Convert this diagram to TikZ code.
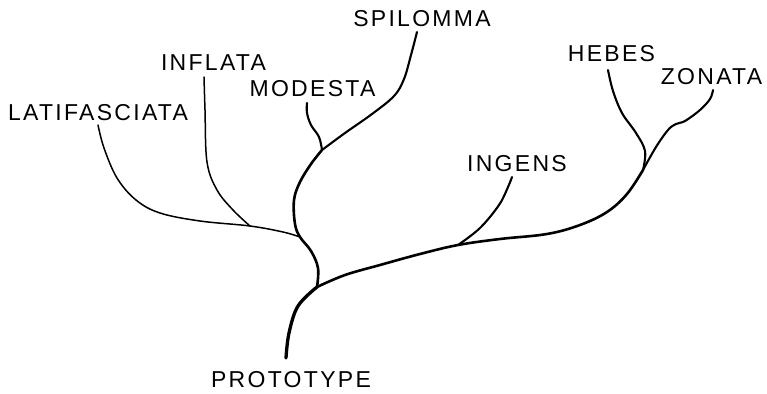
\documentclass[tikz,border=0pt]{standalone}
\usepackage{fontspec}
\setmainfont{Liberation Sans}[LetterSpace=10]
\begin{document}
\begin{tikzpicture}[x=1pt,y=-1pt,
  lbl/.style={inner sep=0pt,font=\fontsize{23}{23}\selectfont},
  trunk/.style={line width=3.3pt,line cap=round,line join=round},
  main/.style={line width=2.6pt,line cap=round,line join=round},
  branch/.style={line width=2.1pt,line cap=round,line join=round},
  thin/.style={line width=1.5pt,line cap=round,line join=round}]
\useasboundingbox (0,0) rectangle (767,393);
% labels
\node[lbl] (proto) at (291,380) {PROTOTYPE};
\node[lbl] (lati)  at (98,112.5) {LATIFASCIATA};
\node[lbl] (infl)  at (213.5,62.5) {INFLATA};
\node[lbl] (mode)  at (312.5,88.5) {MODESTA};
\node[lbl] (spil)  at (422,18.5) {SPILOMMA};
\node[lbl] (inge)  at (517,163.5) {INGENS};
\node[lbl] (hebe)  at (611.5,53.5) {HEBES};
\node[lbl] (zona)  at (711.5,76.5) {ZONATA};
% ends and junctions
\coordinate (rootend) at (286,358);
\coordinate (J1) at (317,287);
\coordinate (J2) at (300,237);
\coordinate (J3) at (322,150);
\coordinate (J4) at (458,245);
\coordinate (J5) at (643,170);
\coordinate (Jinf) at (250,226);
\coordinate (eLati) at (98,125);
\coordinate (eInfl) at (204,77);
\coordinate (eMode) at (307,103);
\coordinate (eSpil) at (417,32);
\coordinate (eInge) at (512,177);
\coordinate (eHebe) at (608,70);
\coordinate (eZona) at (713,90);
% connectors
\draw[trunk] plot[smooth,tension=0.6] coordinates {(rootend) (289,333) (298,306) (J1)};
\draw[main] plot[smooth,tension=0.6] coordinates {(J1) (318,268) (311,251) (J2) (295,224) (294,200) (300,182) (311,164) (J3)};
\draw[branch] plot[smooth,tension=0.6] coordinates {(J3) (345,133) (372,114) (394,96) (404,79) (411,55) (eSpil)};
\draw[branch] plot[smooth,tension=0.6] coordinates {(J3) (319,137) (311,125) (307,113) (eMode)};
\draw[thin] plot[smooth,tension=0.6] coordinates {(eLati) (104,148) (117,178) (136,200) (160,213) (200,221) (Jinf) (283,232) (J2)};
\draw[thin] plot[smooth,tension=0.6] coordinates {(eInfl) (205,110) (207,162) (217,190) (233,210) (Jinf)};
\draw[main] plot[smooth,tension=0.6] coordinates {(J1) (345,275) (380,265) (420,254) (J4) (500,239) (547,234) (580,225) (607,212) (627,194) (J5)};
\draw[branch] plot[smooth,tension=0.6] coordinates {(J4) (480,228) (499,205) (508,187) (eInge)};
\draw[branch] plot[smooth,tension=0.6] coordinates {(J5) (645,151) (636,133) (622,113) (613,91) (eHebe)};
\draw[branch] plot[smooth,tension=0.6] coordinates {(J5) (656,147) (668,130) (676,124) (685,121) (700,110) (710,99) (eZona)};
\end{tikzpicture}
\end{document}
